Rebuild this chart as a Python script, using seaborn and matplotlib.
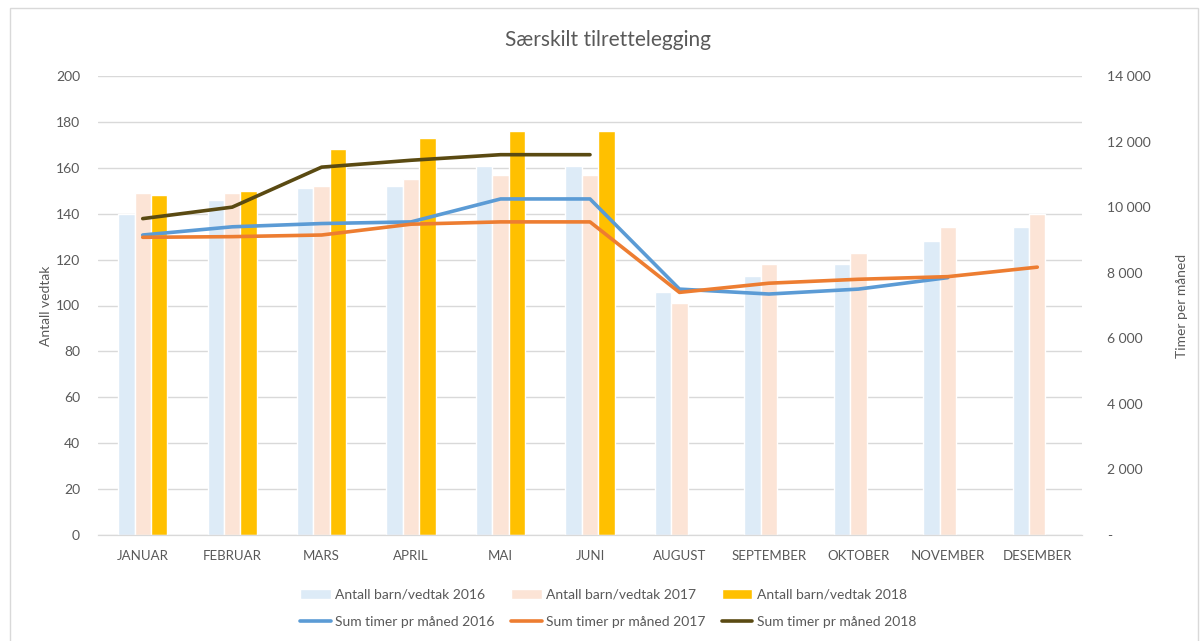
import matplotlib
matplotlib.use("Agg")
import matplotlib.pyplot as plt
import matplotlib.ticker as mticker
from matplotlib.patches import Rectangle
import numpy as np
import pandas as pd
import seaborn as sns

# Data
months = ['JANUAR', 'FEBRUAR', 'MARS', 'APRIL', 'MAI', 'JUNI',
          'AUGUST', 'SEPTEMBER', 'OKTOBER', 'NOVEMBER', 'DESEMBER']

vedtak_2016 = [140, 146, 151, 152, 161, 161, 106, 113, 118, 128, 134]
vedtak_2017 = [149, 149, 152, 155, 157, 157, 101, 118, 123, 134, 140]
vedtak_2018 = [148, 150, 168, 173, 176, 176, np.nan, np.nan, np.nan, np.nan, np.nan]

timer_2016 = [9150, 9400, 9500, 9550, 10250, 10250, 7500, 7350, 7500, 7850, np.nan]
timer_2017 = [9080, 9100, 9150, 9480, 9550, 9550, 7400, 7680, 7800, 7880, 8170]
timer_2018 = [9650, 10000, 11220, 11430, 11600, 11600, np.nan, np.nan, np.nan, np.nan, np.nan]

bar_names = ['Antall barn/vedtak 2016', 'Antall barn/vedtak 2017', 'Antall barn/vedtak 2018']
line_names = ['Sum timer pr måned 2016', 'Sum timer pr måned 2017', 'Sum timer pr måned 2018']

bar_colors = ['#DDEBF7', '#FCE4D6', '#FFC000']
line_colors = ['#5B9BD5', '#ED7D31', '#5A4A12']

grey = '#595959'

df_bars = pd.DataFrame({
    'Måned': months * 3,
    'Serie': np.repeat(bar_names, len(months)),
    'Antall': vedtak_2016 + vedtak_2017 + vedtak_2018,
})

pos = list(range(len(months)))
df_lines = pd.DataFrame({
    'pos': pos * 3,
    'Serie': np.repeat(line_names, len(months)),
    'Timer': timer_2016 + timer_2017 + timer_2018,
}).dropna()

# Plot
sns.set_style("white")
plt.rcParams['font.family'] = ['Lato', 'DejaVu Sans']

fig = plt.figure(figsize=(12.04, 6.41), dpi=100)
ax = fig.add_axes([98 / 1204, 106 / 641, 984 / 1204, 459 / 641])

sns.barplot(data=df_bars, x='Måned', y='Antall', hue='Serie',
            palette=bar_colors, width=0.55, gap=0, saturation=1,
            order=months, hue_order=bar_names, ax=ax, zorder=2)

ax2 = ax.twinx()
sns.lineplot(data=df_lines, x='pos', y='Timer', hue='Serie',
             palette=line_colors, hue_order=line_names, linewidth=2.6,
             ax=ax2, zorder=3)

# Axes limits and ticks
ax.set_ylim(0, 200)
ax.set_yticks(range(0, 201, 20))
ax2.set_ylim(0, 14000)
ax2.set_yticks(range(0, 14001, 2000))
ax2.yaxis.set_major_formatter(mticker.FuncFormatter(
    lambda v, p: '-' if v == 0 else f"{int(v):,}".replace(',', ' ')))
ax.set_xlim(-0.5, len(months) - 0.5)

ax.yaxis.grid(True, color='#D9D9D9', linewidth=1)
ax.set_axisbelow(True)

for a in (ax, ax2):
    for side in ['top', 'left', 'right']:
        a.spines[side].set_visible(False)
    a.spines['bottom'].set_color('#D9D9D9')
    a.tick_params(axis='both', length=0, labelsize=10, labelcolor=grey)

ax.tick_params(axis='x', labelsize=9.5, pad=11)
ax.tick_params(axis='y', pad=13)
ax2.tick_params(axis='y', pad=18)

ax.set_xlabel('')
ax.set_ylabel('Antall vedtak', color=grey, fontsize=10, labelpad=3)
ax2.set_ylabel('Timer per måned', color=grey, fontsize=10, labelpad=18)

fig.text(0.505, 0.938, 'Særskilt tilrettelegging', ha='center', va='center',
         fontsize=15, color=grey)

# Legend
h1, l1 = ax.get_legend_handles_labels()
h2, l2 = ax2.get_legend_handles_labels()
ax.get_legend().remove()
ax2.get_legend().remove()
handles, labels = [], []
for i in range(3):
    handles += [h1[i], h2[i]]
    labels += [l1[i], l2[i]]
leg = fig.legend(handles, labels, ncol=3, loc='center',
                 bbox_to_anchor=(0.505, 0.051), frameon=False,
                 fontsize=10, labelcolor=grey, handlelength=2.2,
                 handletextpad=0.3, columnspacing=1.2, labelspacing=1.1)

# Chart frame
fig.patches.append(Rectangle((10 / 1204, -0.01), 1188 / 1204, 1 - 8 / 641 + 0.01,
                             transform=fig.transFigure, fill=False,
                             edgecolor='#D9D9D9', linewidth=1))

fig.savefig('out.png', dpi=100)
